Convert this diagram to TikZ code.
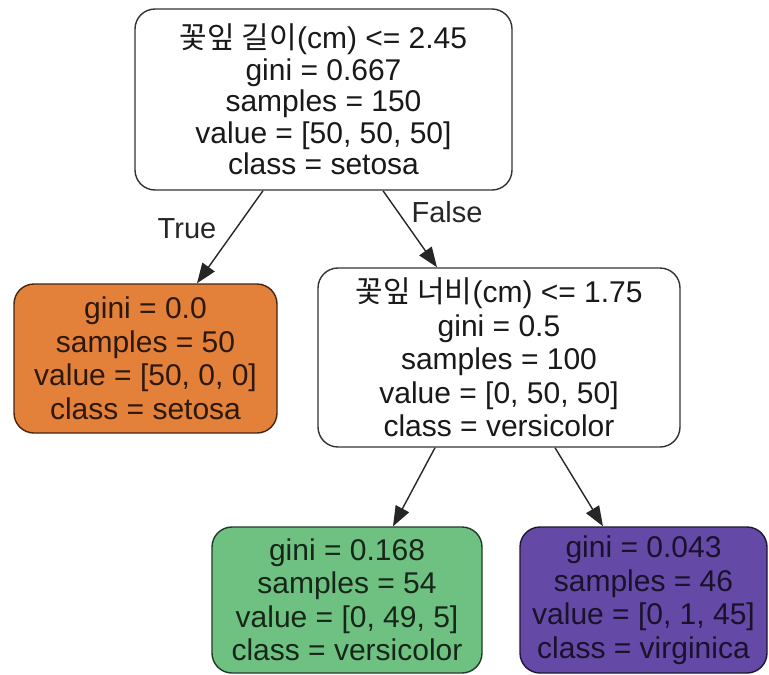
\documentclass[tikz,border=0pt]{standalone}
\usepackage{fontspec}
\setmainfont{Liberation Sans}
\newfontfamily\kor{Noto Sans CJK KR}
\usepackage{tikz}
\usetikzlibrary{arrows.meta}
\definecolor{irisorange}{HTML}{E3803A}
\definecolor{irisgreen}{HTML}{6FC182}
\definecolor{irispurple}{HTML}{6449A6}
\tikzset{
  treebox/.style={
    draw=black!80, line width=1.4pt, rounded corners=20pt,
    fill=white, text=black!90, align=center,
    font=\fontsize{30}{33.5}\selectfont, inner sep=0pt},
  treebox_setosa/.style={
    treebox, fill=irisorange, draw=irisorange!30!black, text=irisorange!20!black},
  treebox_versi/.style={
    treebox, fill=irisgreen, draw=irisgreen!30!black, text=irisgreen!20!black},
  treebox_virg/.style={
    treebox, fill=irispurple, draw=irispurple!30!black, text=irispurple!25!black},
  treearrow/.style={
    -{Triangle[length=20pt, width=15pt]}, line width=1.4pt, color=black!85},
  treelabel/.style={font=\fontsize{29}{33}\selectfont, text=black!85},
}
\begin{document}
\begin{tikzpicture}[x=1pt, y=-1pt]
  \useasboundingbox (0,0) rectangle (769,675);
  \node[treebox, minimum width=377pt, minimum height=181pt,
        font=\fontsize{30}{31.5}\selectfont]            (root)  at (323.5,99.5)
        {{\kor 꽃잎 길이}(cm) <= 2.45\\gini = 0.667\\samples = 150\\value = [50, 50, 50]\\class = setosa};
  \node[treebox_setosa, minimum width=263pt, minimum height=149pt] (leafs) at (145.5,358.5)
        {gini = 0.0\\samples = 50\\value = [50, 0, 0]\\class = setosa};
  \node[treebox, minimum width=362pt, minimum height=179pt]        (split) at (499,357.5)
        {{\kor 꽃잎 너비}(cm) <= 1.75\\gini = 0.5\\samples = 100\\value = [0, 50, 50]\\class = versicolor};
  \node[treebox_versi, minimum width=270pt, minimum height=146pt]  (leafv) at (347,600)
        {gini = 0.168\\samples = 54\\value = [0, 49, 5]\\class = versicolor};
  \node[treebox_virg, minimum width=247pt, minimum height=146pt]   (leafg) at (643.5,600)
        {gini = 0.043\\samples = 46\\value = [0, 1, 45]\\class = virginica};
  \draw[treearrow] ([xshift=-60.5pt]root.south) -- ([xshift=51.5pt]leafs.north);
  \draw[treearrow] ([xshift=59.5pt]root.south) -- ([xshift=-62pt]split.north);
  \draw[treearrow] ([xshift=-64pt]split.south) -- ([xshift=46pt]leafv.north);
  \draw[treearrow] ([xshift=56pt]split.south) -- ([xshift=-40.5pt]leafg.north);
  \node[treelabel] (ltrue)  at (187,229) {True};
  \node[treelabel] (lfalse) at (447,212) {False};
\end{tikzpicture}
\end{document}
